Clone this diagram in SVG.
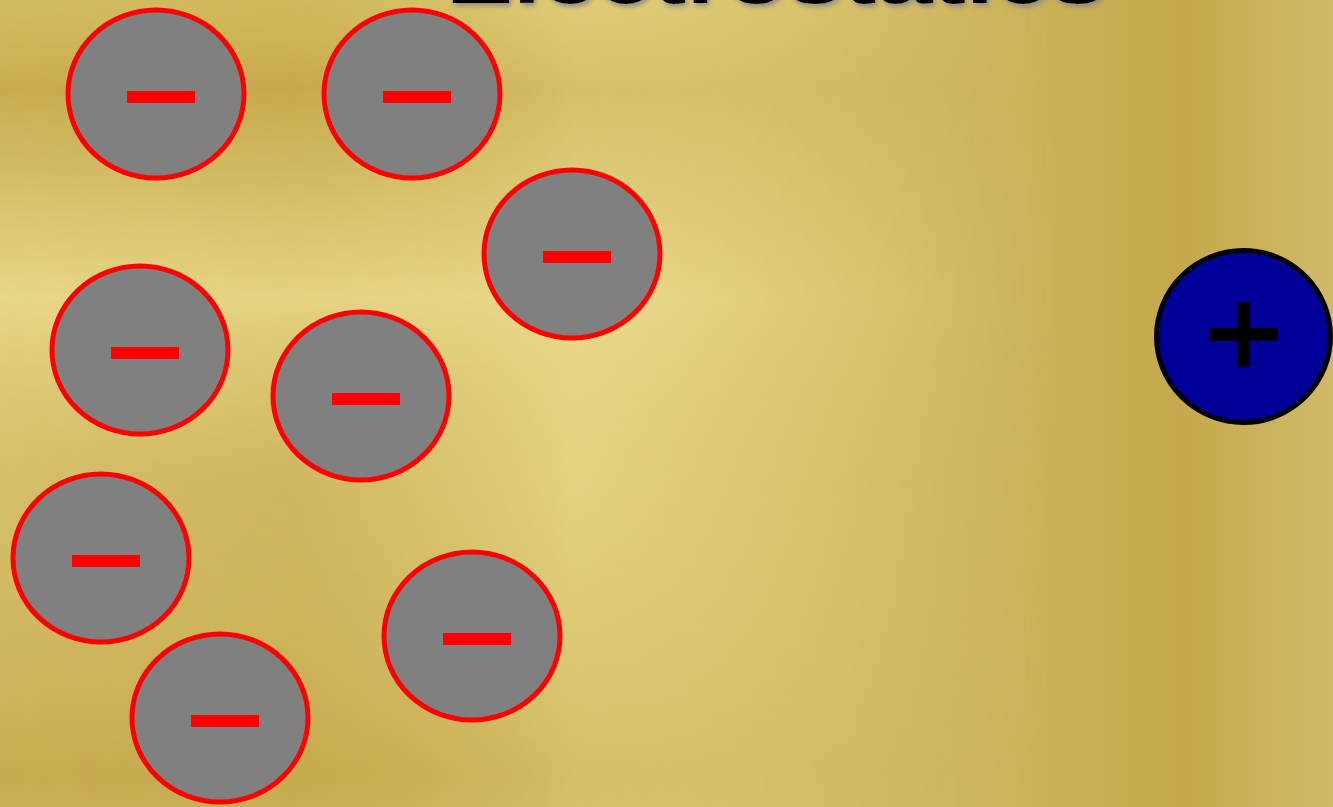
<svg xmlns="http://www.w3.org/2000/svg" width="1333" height="807" viewBox="0 0 1333 807">
  <defs>
    <linearGradient id="bgH" x1="0" y1="0" x2="1333" y2="0" gradientUnits="userSpaceOnUse">
      <stop offset="0" stop-color="#D2B962"/>
      <stop offset="0.22" stop-color="#C8AC50"/>
      <stop offset="0.43" stop-color="#E8D98A"/>
      <stop offset="0.62" stop-color="#D8C26C"/>
      <stop offset="0.8" stop-color="#CAAF55"/>
      <stop offset="0.89" stop-color="#C5A94C"/>
      <stop offset="1" stop-color="#D1B968"/>
    </linearGradient>
    <linearGradient id="bgV" x1="0" y1="0" x2="0" y2="807" gradientUnits="userSpaceOnUse">
      <stop offset="0" stop-color="#D6BE62" stop-opacity="0.7"/>
      <stop offset="0.11" stop-color="#C6A94C" stop-opacity="0.85"/>
      <stop offset="0.37" stop-color="#E9DA8C" stop-opacity="0.9"/>
      <stop offset="0.6" stop-color="#D8C36E" stop-opacity="0.5"/>
      <stop offset="0.96" stop-color="#C6AA4E" stop-opacity="0.9"/>
      <stop offset="1" stop-color="#C9AE54" stop-opacity="0.9"/>
    </linearGradient>
    <linearGradient id="fadeX" x1="0" y1="0" x2="1333" y2="0" gradientUnits="userSpaceOnUse">
      <stop offset="0" stop-color="#fff"/>
      <stop offset="0.3" stop-color="#fff" stop-opacity="0.9"/>
      <stop offset="0.5" stop-color="#fff" stop-opacity="0.5"/>
      <stop offset="0.8" stop-color="#fff" stop-opacity="0"/>
    </linearGradient>
    <mask id="mX" maskUnits="userSpaceOnUse" x="0" y="0" width="1333" height="807">
      <rect width="1333" height="807" fill="url(#fadeX)"/>
    </mask>
    <filter id="shadow" x="-10%" y="-50%" width="120%" height="200%">
      <feDropShadow dx="2" dy="3" stdDeviation="2.5" flood-color="#888" flood-opacity="0.9"/>
    </filter>
  </defs>
  <style>
    .e ellipse { fill: #808080; stroke: #FF0000; stroke-width: 5; }
    .e rect { fill: #FF0000; }
    .p ellipse { fill: #000099; stroke: #000000; stroke-width: 5; }
    .p rect { fill: #000000; }
    .title { font-family: "Liberation Sans", Arial, sans-serif; font-weight: bold; font-size: 80px; }
  </style>

  <rect width="1333" height="807" fill="url(#bgH)"/>
  <rect width="1333" height="807" fill="url(#bgV)" mask="url(#mX)"/>

  <g id="title">
    <text class="title" x="446" y="3" textLength="660" lengthAdjust="spacingAndGlyphs" fill="#000" filter="url(#shadow)">Electrostatics</text>
  </g>

  <g id="electron1" class="e"><ellipse cx="156" cy="94" rx="88" ry="84"/><rect x="127" y="91" width="68" height="12"/></g>
  <g id="electron2" class="e"><ellipse cx="412" cy="94" rx="88" ry="84"/><rect x="383" y="91" width="68" height="12"/></g>
  <g id="electron3" class="e"><ellipse cx="572" cy="254" rx="88" ry="84"/><rect x="543" y="251" width="68" height="12"/></g>
  <g id="electron4" class="e"><ellipse cx="140" cy="350" rx="88" ry="84"/><rect x="111" y="347" width="68" height="12"/></g>
  <g id="electron5" class="e"><ellipse cx="361" cy="396" rx="88" ry="84"/><rect x="332" y="393" width="68" height="12"/></g>
  <g id="electron6" class="e"><ellipse cx="101" cy="558" rx="88" ry="84"/><rect x="72" y="555" width="68" height="12"/></g>
  <g id="electron7" class="e"><ellipse cx="472" cy="636" rx="88" ry="84"/><rect x="443" y="633" width="68" height="12"/></g>
  <g id="electron8" class="e"><ellipse cx="220" cy="718" rx="88" ry="84"/><rect x="191" y="715" width="68" height="12"/></g>

  <g id="ion" class="p">
    <ellipse cx="1243.5" cy="336.5" rx="87" ry="86"/>
    <rect x="1210" y="328" width="68" height="13"/>
    <rect x="1238" y="302" width="12" height="65"/>
  </g>

  <g id="connectors"></g>
</svg>
